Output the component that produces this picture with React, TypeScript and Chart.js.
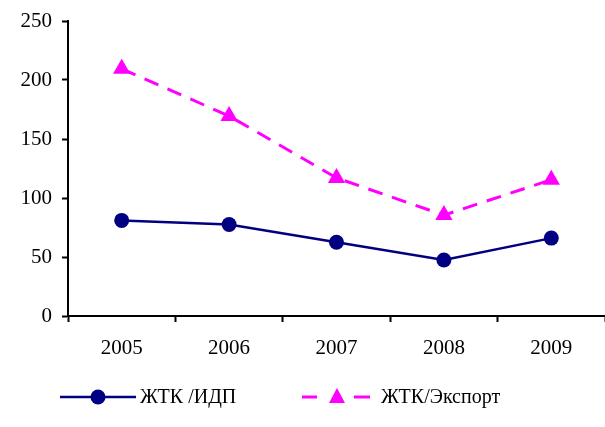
import React, { useEffect, useRef } from "react";
import { Chart, registerables } from "chart.js";

Chart.register(...registerables);

const categories = ["2005", "2006", "2007", "2008", "2009"];
const idpValues = [81, 77.5, 62.5, 47.5, 66];
const exportValues = [209.5, 169.5, 117, 85.5, 115.5];
const yTicks = [0, 50, 100, 150, 200, 250];
const seriesNames = ["ЖТК /ИДП", "ЖТК/Экспорт"];

const NAVY = "#000080";
const MAGENTA = "#FF00FF";
const FONT = "'Liberation Serif', 'Times New Roman', serif";

const legendPlugin = {
  id: "customLegend",
  afterDraw(chart: any) {
    const ctx = chart.ctx;
    const y = 397;
    ctx.save();
    // series 1
    ctx.strokeStyle = NAVY;
    ctx.lineWidth = 2.5;
    ctx.setLineDash([]);
    ctx.beginPath();
    ctx.moveTo(60, y);
    ctx.lineTo(136, y);
    ctx.stroke();
    ctx.fillStyle = NAVY;
    ctx.beginPath();
    ctx.arc(98, y, 7.5, 0, Math.PI * 2);
    ctx.fill();
    // series 2
    ctx.strokeStyle = MAGENTA;
    ctx.lineWidth = 3;
    ctx.beginPath();
    ctx.moveTo(302, y);
    ctx.lineTo(317, y);
    ctx.moveTo(354, y);
    ctx.lineTo(370, y);
    ctx.stroke();
    ctx.fillStyle = MAGENTA;
    ctx.beginPath();
    ctx.moveTo(337, y - 9);
    ctx.lineTo(345, y + 6);
    ctx.lineTo(329, y + 6);
    ctx.closePath();
    ctx.fill();
    ctx.fillStyle = "#000";
    ctx.font = `20px ${FONT}`;
    ctx.textBaseline = "middle";
    ctx.textAlign = "left";
    ctx.fillText(seriesNames[0], 140, y + 1);
    ctx.fillText(seriesNames[1], 381, y + 1);
    ctx.restore();
  },
};

export default function App() {
  const ref = useRef<HTMLCanvasElement>(null);
  useEffect(() => {
    if (!ref.current) return;
    const chart = new Chart(ref.current, {
      type: "line",
      data: {
        labels: categories,
        datasets: [
          {
            label: seriesNames[0],
            data: idpValues,
            borderColor: NAVY,
            backgroundColor: NAVY,
            borderWidth: 2.5,
            pointStyle: "circle",
            pointRadius: 7.5,
            pointHoverRadius: 7.5,
            pointBorderWidth: 0,
            tension: 0,
          },
          {
            label: seriesNames[1],
            data: exportValues,
            borderColor: MAGENTA,
            backgroundColor: MAGENTA,
            borderWidth: 3,
            borderDash: [15, 10],
            pointStyle: "triangle",
            pointRadius: 10,
            pointHoverRadius: 10,
            pointBorderWidth: 0,
            tension: 0,
          },
        ],
      },
      options: {
        animation: false,
        responsive: false,
        maintainAspectRatio: false,
        layout: { autoPadding: false, padding: { top: 21, right: 0, left: 0, bottom: 0 } },
        plugins: { legend: { display: false }, tooltip: { enabled: false } },
        scales: {
          x: {
            type: "category",
            offset: true,
            grid: {
              display: true,
              offset: true,
              drawOnChartArea: false,
              drawTicks: true,
              tickLength: 6,
              tickWidth: 2,
              color: "#000",
            },
            border: { display: true, color: "#000", width: 2 },
            ticks: {
              color: "#000",
              font: { family: FONT, size: 21 },
              padding: 14,
              maxRotation: 0,
            },
            afterFit(scale: any) {
              scale.height = 111;
              scale.paddingLeft = 0;
              scale.paddingRight = 0;
            },
          },
          y: {
            min: 0,
            max: 250,
            afterBuildTicks(scale: any) {
              scale.ticks = yTicks.map((v) => ({ value: v }));
            },
            grid: {
              display: true,
              drawOnChartArea: false,
              drawTicks: true,
              tickLength: 6,
              tickWidth: 2,
              color: "#000",
            },
            border: { display: true, color: "#000", width: 2 },
            ticks: {
              color: "#000",
              font: { family: FONT, size: 21 },
              padding: 10,
            },
            afterFit(scale: any) {
              scale.width = 68;
              scale.paddingTop = 0;
              scale.paddingBottom = 0;
            },
          },
        },
      },
      plugins: [legendPlugin],
    } as any);
    return () => chart.destroy();
  }, []);
  return (
    <div style={{ position: "absolute", left: 0, top: 0, width: 605, height: 427, background: "#fff" }}>
      <canvas ref={ref} width={605} height={427} style={{ width: 605, height: 427 }} />
    </div>
  );
}
